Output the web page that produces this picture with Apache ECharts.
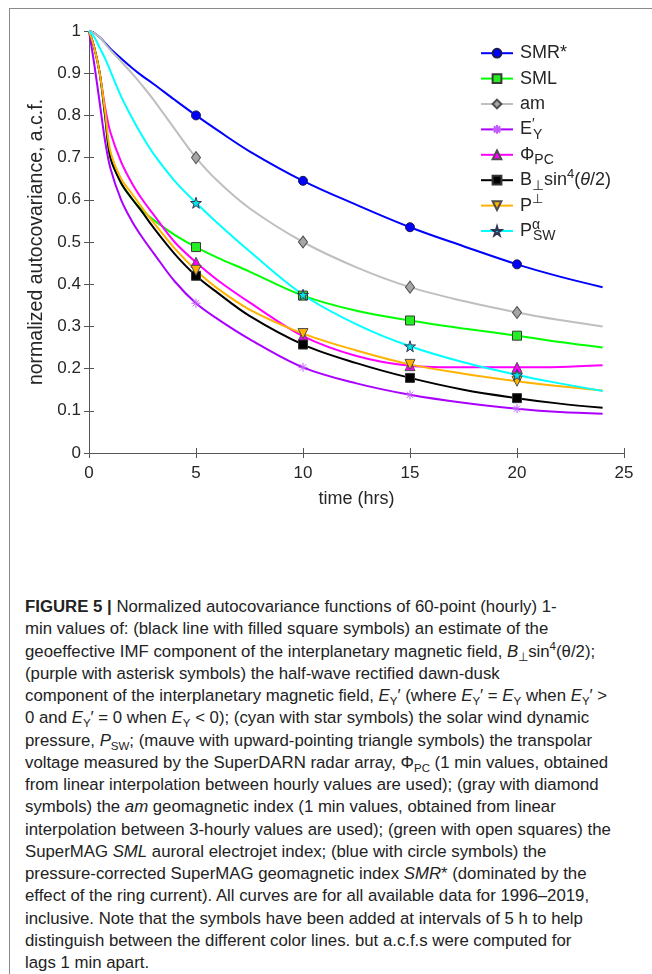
<!DOCTYPE html>
<html>
<head>
<meta charset="utf-8">
<script src="https://cdn.jsdelivr.net/npm/echarts@6/dist/echarts.min.js"></script>
<style>
  body { margin: 0; background: #fff; }
  #wrap { position: relative; width: 652px; height: 974px; overflow: hidden; }
  #frame { position: absolute; left: 9px; top: 8px; right: -2px; bottom: -2px;
           border-top: 1px solid #8a8a8a; border-left: 1px solid #8a8a8a; }
  #chart { position: absolute; left: 0; top: 0; width: 652px; height: 590px; }
  #caption { position: absolute; left: 25px; top: 596px; width: 610px; color: #222;
             font-family: "Liberation Sans", Arial, sans-serif; font-size: 16.8px; }
  #caption div { height: 22.25px; line-height: 22.25px; white-space: nowrap; }
  #caption sub, #caption sup { font-size: 11.5px; line-height: 0; }
</style>
</head>
<body>
<div id="wrap">
  <div id="frame"></div>
  <div id="chart"></div>
  <div id="caption">
    <div><b>FIGURE 5 |</b> Normalized autocovariance functions of 60-point (hourly) 1-</div>
    <div>min values of: (black line with filled square symbols) an estimate of the</div>
    <div>geoeffective IMF component of the interplanetary magnetic field, <i>B</i><sub>⊥</sub>sin<sup>4</sup>(θ/2);</div>
    <div>(purple with asterisk symbols) the half-wave rectified dawn-dusk</div>
    <div>component of the interplanetary magnetic field, <i>E</i><sub>Y</sub>′ (where <i>E</i><sub>Y</sub>′ = <i>E</i><sub>Y</sub> when <i>E</i><sub>Y</sub>′ &gt;</div>
    <div>0 and <i>E</i><sub>Y</sub>′ = 0 when <i>E</i><sub>Y</sub> &lt; 0); (cyan with star symbols) the solar wind dynamic</div>
    <div>pressure, <i>P</i><sub>SW</sub>; (mauve with upward-pointing triangle symbols) the transpolar</div>
    <div>voltage measured by the SuperDARN radar array, Φ<sub>PC</sub> (1 min values, obtained</div>
    <div>from linear interpolation between hourly values are used); (gray with diamond</div>
    <div>symbols) the <i>am</i> geomagnetic index (1 min values, obtained from linear</div>
    <div>interpolation between 3-hourly values are used); (green with open squares) the</div>
    <div>SuperMAG <i>SML</i> auroral electrojet index; (blue with circle symbols) the</div>
    <div>pressure-corrected SuperMAG geomagnetic index <i>SMR</i>* (dominated by the</div>
    <div>effect of the ring current). All curves are for all available data for 1996–2019,</div>
    <div>inclusive. Note that the symbols have been added at intervals of 5 h to help</div>
    <div>distinguish between the different color lines. but a.c.f.s were computed for</div>
    <div>lags 1 min apart.</div>
  </div>
</div>
<script>
var lags = [0, 0.25, 0.5, 0.75, 1, 1.5, 2, 2.5, 3, 4, 5, 6, 7.5, 10, 12.5, 15, 17.5, 20, 22, 24];
// symbols are only drawn every 5 h
var markerLags = [5, 10, 15, 20];

var smr = [1, 0.995, 0.985, 0.972, 0.958, 0.935, 0.913, 0.893, 0.875, 0.837, 0.80, 0.765, 0.715, 0.645, 0.588, 0.535, 0.49, 0.447, 0.418, 0.393];
var sml = [1, 0.96, 0.9, 0.8, 0.70, 0.64, 0.603, 0.575, 0.553, 0.517, 0.488, 0.463, 0.43, 0.373, 0.337, 0.314, 0.295, 0.278, 0.263, 0.25];
var am = [1, 0.995, 0.985, 0.97, 0.955, 0.928, 0.9, 0.87, 0.838, 0.768, 0.70, 0.645, 0.58, 0.50, 0.44, 0.393, 0.36, 0.333, 0.315, 0.30];
var ey = [1, 0.92, 0.83, 0.74, 0.675, 0.6, 0.55, 0.51, 0.475, 0.407, 0.355, 0.318, 0.27, 0.203, 0.165, 0.138, 0.119, 0.105, 0.097, 0.093];
var phiPC = [1, 0.96, 0.9, 0.82, 0.76, 0.69, 0.64, 0.6, 0.566, 0.5, 0.452, 0.41, 0.357, 0.277, 0.23, 0.207, 0.203, 0.203, 0.204, 0.208];
var bsin = [1, 0.96, 0.9, 0.8, 0.70, 0.64, 0.603, 0.57, 0.535, 0.472, 0.42, 0.38, 0.325, 0.257, 0.213, 0.178, 0.15, 0.13, 0.117, 0.107];
var pPerp = [1, 0.96, 0.9, 0.81, 0.715, 0.65, 0.615, 0.58, 0.547, 0.485, 0.433, 0.39, 0.34, 0.283, 0.243, 0.21, 0.188, 0.17, 0.158, 0.148];
var psw = [1, 0.985, 0.96, 0.935, 0.905, 0.845, 0.795, 0.75, 0.71, 0.645, 0.593, 0.545, 0.478, 0.375, 0.305, 0.253, 0.215, 0.185, 0.165, 0.147];

var yTicks = [0, 0.1, 0.2, 0.3, 0.4, 0.5, 0.6, 0.7, 0.8, 0.9, 1];
var xTicks = [0, 5, 10, 15, 20, 25];

var starPath = 'path://M50,0L61,35L98,35L68,57L79,91L50,70L21,91L32,57L2,35L39,35Z';
var asteriskPath = 'path://M5,0L5,10M0,5L10,5M1.5,1.5L8.5,8.5M1.5,8.5L8.5,1.5';
var downTriPath = 'path://M0,0L10,0L5,8.66Z';

var legendNames = ['SMR*', 'SML', 'am', 'EY', 'PhiPC', 'Bsin', 'Pperp', 'Psw'];
var legendText = {
  'SMR*': '{b|SMR*}',
  'SML': '{b|SML}',
  'am': '{b|am}',
  'EY': '{b|E}{sp|′}{sb|Y}',
  'PhiPC': '{b|Φ}{sb|PC}',
  'Bsin': '{b|B}{sb|⊥}{b|sin}{su|4}{b|(}{it|θ}{b|/2)}',
  'Pperp': '{b|P}{su|⊥}',
  'Psw': '{b|P}{sp|α}{sb|SW}'
};

function makeData(vals) {
  return lags.map(function (t, i) {
    if (markerLags.indexOf(t) >= 0) return [t, vals[i]];
    return { value: [t, vals[i]], symbol: 'none' };
  });
}

function line(name, vals, color, symbol, size, fill, border) {
  return {
    name: name,
    type: 'line',
    smooth: 0.35,
    data: makeData(vals),
    symbol: symbol,
    symbolSize: size,
    showSymbol: true,
    lineStyle: { color: color, width: 2 },
    itemStyle: { color: fill, borderColor: border, borderWidth: 1 },
    emphasis: { disabled: true },
    z: 3
  };
}

var chart = echarts.init(document.getElementById('chart'));
var axisCol = '#555';
var labelCol = '#262626';
var fontFam = '"Liberation Sans", Arial, sans-serif';

var legendRich = {
  b: { fontSize: 18, lineHeight: 25, color: labelCol, fontFamily: fontFam },
  it: { fontSize: 18, lineHeight: 25, color: labelCol, fontFamily: fontFam, fontStyle: 'italic' },
  sb: { fontSize: 14, lineHeight: 6, verticalAlign: 'bottom', color: labelCol, fontFamily: fontFam },
  su: { fontSize: 13, lineHeight: 18, verticalAlign: 'top', color: labelCol, fontFamily: fontFam },
  sp: { fontSize: 14, lineHeight: 4, width: 1, verticalAlign: 'top', color: labelCol, fontFamily: fontFam }
};

// one legend block per row so that every row sits at the same spacing
var legends = legendNames.map(function (n, i) {
  return {
    orient: 'vertical',
    left: 475,
    top: 35.7 + i * 25.4,
    itemWidth: 32,
    itemHeight: 11,
    formatter: function (name) { return legendText[name]; },
    textStyle: { padding: [0, 0, 0, 2], lineHeight: 25, height: 25, rich: legendRich },
    selectedMode: false,
    data: [n]
  };
});

var option = {
  animation: false,
  grid: { left: 89, top: 31, right: 28, bottom: 137 },
  legend: legends,
  xAxis: [{
    type: 'value', min: 0, max: 25, interval: 5,
    name: 'time (hrs)', nameLocation: 'middle', nameGap: 37,
    nameTextStyle: { fontSize: 18, color: labelCol, fontFamily: fontFam },
    axisLine: { lineStyle: { color: axisCol, width: 1 } },
    axisTick: { inside: true, length: 5, lineStyle: { color: axisCol } },
    axisLabel: { fontSize: 17, color: labelCol, fontFamily: fontFam, margin: 12,
      formatter: function (v) { return xTicks.indexOf(v) >= 0 ? String(v) : ''; } },
    splitLine: { show: false }
  }, {
    type: 'value', min: 0, max: 25, interval: 5, position: 'top',
    axisLine: { lineStyle: { color: axisCol, width: 1 } },
    axisTick: { inside: true, length: 5, lineStyle: { color: axisCol } },
    axisLabel: { show: false },
    splitLine: { show: false }
  }],
  yAxis: [{
    type: 'value', min: 0, max: 1, interval: 0.1,
    name: 'normalized autocovariance, a.c.f.', nameLocation: 'middle', nameGap: 37,
    nameTextStyle: { fontSize: 19.5, color: labelCol, fontFamily: fontFam },
    axisLine: { show: true, lineStyle: { color: axisCol, width: 1 } },
    axisTick: { show: true, inside: true, length: 5, lineStyle: { color: axisCol } },
    axisLabel: { fontSize: 17, color: labelCol, fontFamily: fontFam, margin: 8,
      formatter: function (v) {
        var r = Math.round(v * 10) / 10;
        return yTicks.indexOf(r) >= 0 ? String(r) : '';
      } },
    splitLine: { show: false }
  }, {
    type: 'value', min: 0, max: 1, interval: 0.1, position: 'right',
    axisLine: { show: true, lineStyle: { color: axisCol, width: 1 } },
    axisTick: { show: true, inside: true, length: 5, lineStyle: { color: axisCol } },
    axisLabel: { show: false },
    splitLine: { show: false }
  }],
  series: [
    line('SMR*', smr, '#0000ff', 'circle', 9, '#0000ff', '#1a1a4d'),
    line('SML', sml, '#00ff00', 'rect', 9, '#22ee22', '#3a3a3a'),
    line('am', am, '#bfbfbf', 'diamond', [9, 12], '#a6a6a6', '#4d4d4d'),
    line('EY', ey, '#aa00ff', asteriskPath, 9, 'transparent', '#c35cff'),
    line('PhiPC', phiPC, '#ff00ff', 'triangle', 10, '#ff00ff', '#4d4d4d'),
    line('Bsin', bsin, '#000000', 'rect', 9, '#000000', '#333333'),
    line('Pperp', pPerp, '#ffb300', downTriPath, 10, '#ffb300', '#4d4d4d'),
    line('Psw', psw, '#00ffff', starPath, 11, '#00e5e5', '#335')
  ]
};
chart.setOption(option);
</script>
</body>
</html>
